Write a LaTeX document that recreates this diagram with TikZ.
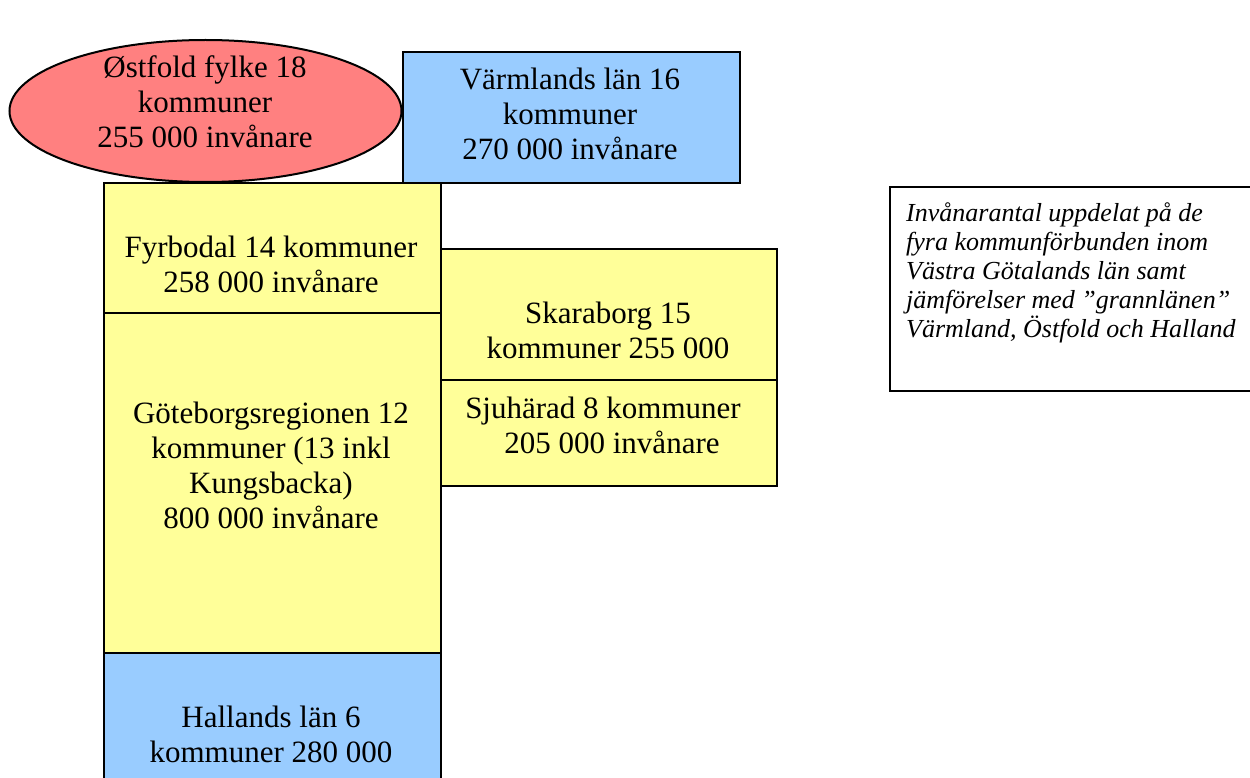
\documentclass[tikz,border=0pt]{standalone}
\usepackage{fontspec}
\setmainfont{Liberation Serif}
\usetikzlibrary{shapes.geometric}
\definecolor{rosa}{HTML}{FF8080}
\definecolor{ljusbla}{HTML}{99CCFF}
\definecolor{ljusgul}{HTML}{FFFF99}
\begin{document}
\begin{tikzpicture}[x=1pt,y=-1pt,
  box/.style={draw=black, line width=2pt, inner sep=0pt, anchor=north west, rectangle},
  big/.style={font=\fontsize{31}{35}\selectfont, align=center, inner sep=0pt, anchor=base},
  note/.style={font=\fontsize{26}{28.8}\selectfont\itshape, align=left, inner sep=0pt, anchor=base west}]
\useasboundingbox (0,0) rectangle (1250,778);
\node[draw=black, line width=2pt, ellipse, fill=rosa, minimum width=392pt, minimum height=142pt, inner sep=0pt] (ostfold) at (205.5,111) {};
\node[box, fill=ljusbla, minimum width=337pt, minimum height=131pt] (varmland) at (402,51) {};
\node[box, fill=ljusgul, minimum width=337pt, minimum height=130pt] (fyrbodal) at (103,182) {};
\node[box, fill=ljusgul, minimum width=337pt, minimum height=340pt] (goteborg) at (103,312) {};
\node[box, fill=ljusbla, minimum width=337pt, minimum height=160pt] (hallands) at (103,652) {};
\node[box, fill=ljusgul, minimum width=336pt, minimum height=131pt] (skaraborg) at (440,248) {};
\node[box, fill=ljusgul, minimum width=336pt, minimum height=106pt] (sjuharad) at (440,379) {};
\node[box, fill=white, minimum width=380pt, minimum height=204pt] (notbox) at (889,186) {};

\node[big] (ostfoldtext) at (205,148) {Østfold fylke 18\\kommuner\\255 000 invånare};
\node[big] (varmlandtext) at (570,160) {Värmlands län 16\\kommuner\\270 000 invånare};
\node[big] (fyrbodaltext) at (271,292) {Fyrbodal 14 kommuner\\258 000 invånare};
\node[big] (goteborgtext) at (271,528) {Göteborgsregionen 12\\kommuner (13 inkl\\Kungsbacka)\\800 000 invånare};
\node[big] (skaraborgtext) at (608,358) {Skaraborg 15\\kommuner 255 000};
\node[big] (sjuharadtext) at (603,453) {Sjuhärad 8 kommuner\\\hspace*{18pt}205 000 invånare};
\node[big] (hallandstext) at (271,762) {Hallands län 6\\kommuner 280 000};
\node[note] (nottext) at (906,337) {Invånarantal uppdelat på de\\fyra kommunförbunden inom\\Västra Götalands län samt\\jämförelser med ”grannlänen”\\Värmland, Östfold och Halland};
\end{tikzpicture}
\end{document}
